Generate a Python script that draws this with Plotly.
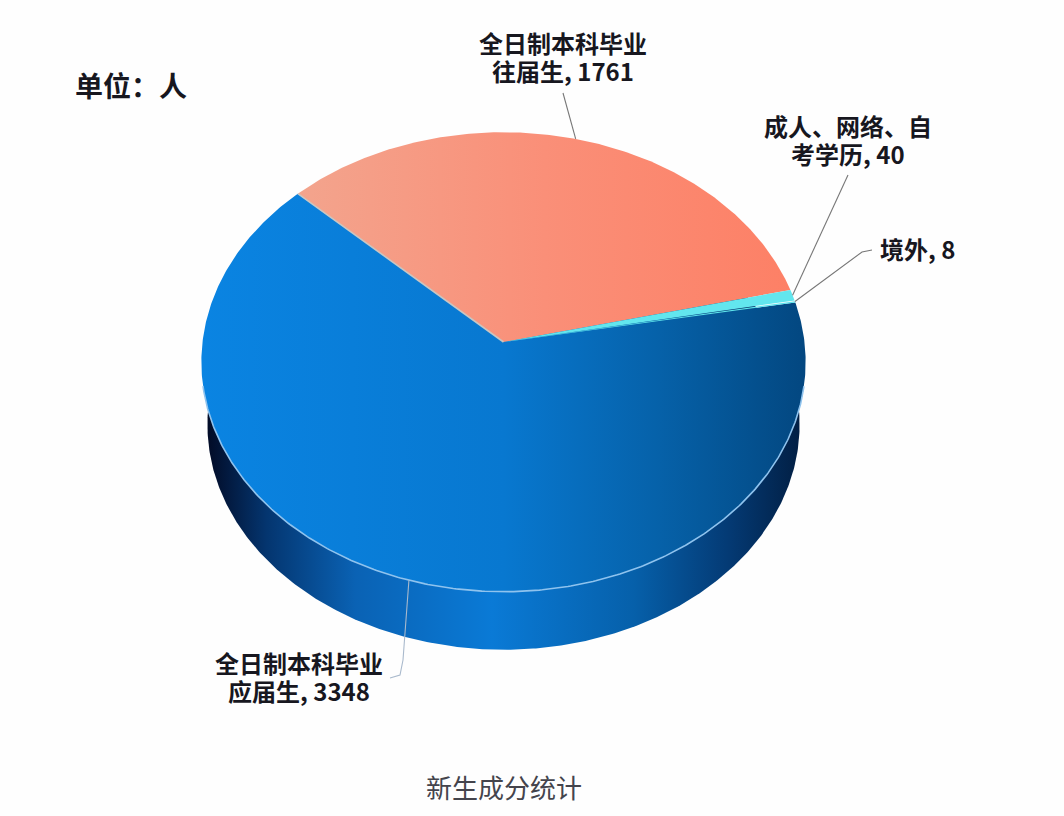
import numpy as np
import plotly.graph_objects as go

# slices, clockwise starting from the orange one
categories = ["全日制本科毕业<br>往届生", "成人、网络、自<br>考学历", "境外", "全日制本科毕业<br>应届生"]
values = [1761, 40, 8, 3348]
unit_text = "单位：人"
title_text = "新生成分统计"

START_ANGLE = -46.4
CX, CY = 503.5, 342
A, B, P = 301, 228, 0.087
FONT = "Noto Sans CJK SC"
LINE_GAP = 28


def project(theta_deg, scale=1.0, cy=CY):
    t = np.radians(theta_deg)
    s = 1 / (1 + P * np.cos(t))
    return CX + scale * A * np.sin(t) * s, cy - scale * B * np.cos(t) * s


def arc(a0, a1, scale=1.0, cy=CY):
    n = max(int(abs(a1 - a0) * 2), 4)
    return project(np.linspace(a0, a1, n), scale, cy)


total = sum(values)
edges = START_ANGLE + np.cumsum([0] + values) / total * 360
mids = (edges[:-1] + edges[1:]) / 2

slice_fill = [
    dict(colorscale=[[0, "#f3a48d"], [0.5, "#fa8f78"], [1, "#fd8066"]], start=300, stop=790),
    dict(colorscale=[[0, "#62e6ee"], [1, "#62e6ee"]], start=300, stop=800),
    dict(colorscale=[[0, "#5ce4ee"], [1, "#5ce4ee"]], start=300, stop=800),
    dict(colorscale=[[0, "#0a84e2"], [0.5, "#0878d0"], [0.75, "#0662aa"], [1, "#034780"]], start=201, stop=806),
]
wall_fill = dict(
    colorscale=[[0, "#020b26"], [0.1, "#04356f"], [0.25, "#0a62b4"], [0.48, "#0a7ad6"],
                [0.72, "#0660aa"], [0.88, "#043a74"], [1, "#021f44"]],
    start=207, stop=800,
)

fig = go.Figure()

# side wall, a smaller disc pushed down
wx, wy = arc(0, 360, 0.98, 405)
fig.add_trace(go.Scatter(x=wx, y=wy, mode="lines", fill="toself", line=dict(width=0),
                         fillgradient=dict(type="horizontal", **wall_fill), hoverinfo="skip"))

# top face, the big slice first so the smaller ones sit on it
for i in [3, 0, 1, 2]:
    ax, ay = arc(edges[i], edges[i + 1])
    x = np.r_[CX, ax, CX]
    y = np.r_[CY, ay, CY]
    fig.add_trace(go.Scatter(x=x, y=y, mode="lines", fill="toself", line=dict(width=0),
                             fillgradient=dict(type="horizontal", **slice_fill[i]), hoverinfo="skip"))

# seam between blue and orange, and the light rim on the front
sx, sy = project(np.array([edges[0]]))
fig.add_trace(go.Scatter(x=[CX, sx[0]], y=[CY, sy[0]], mode="lines",
                         line=dict(color="#c9c6c2", width=1.6), hoverinfo="skip"))
rx, ry = arc(101, 259)
fig.add_trace(go.Scatter(x=rx, y=ry, mode="lines", line=dict(color="#8fc3ee", width=1.6), hoverinfo="skip"))

# leader lines from the middle of each slice to its label
leader_ends = [
    ([563], [93]),
    ([848], [175]),
    ([862, 872], [252, 250]),
    ([403, 400, 390], [660, 675, 678]),
]
leader_colors = ["#777777", "#777777", "#777777", "#a9b9cc"]
for i in range(4):
    lx, ly = project(np.array([mids[i]]))
    fig.add_trace(go.Scatter(x=np.r_[lx, leader_ends[i][0]], y=np.r_[ly, leader_ends[i][1]], mode="lines",
                             line=dict(color=leader_colors[i], width=1.1), hoverinfo="skip"))

label_pos = [(563, 56), (848, 139), (917, 248), (299, 676)]
for i in range(4):
    lines = f"{categories[i]}, {values[i]}".split("<br>")
    y0 = label_pos[i][1] - LINE_GAP * (len(lines) - 1) / 2
    for j, line in enumerate(lines):
        fig.add_annotation(x=label_pos[i][0], y=y0 + j * LINE_GAP, showarrow=False, text=line,
                           font=dict(family=FONT, size=24, color="#17171f", weight=700))
fig.add_annotation(x=131, y=85, showarrow=False, text=unit_text,
                   font=dict(family=FONT, size=28, color="#17171f", weight=700))
fig.add_annotation(x=504, y=786, showarrow=False, text=title_text,
                   font=dict(family=FONT, size=26, color="#44444c"))

fig.update_layout(
    width=1064, height=816, margin=dict(l=0, r=0, t=0, b=0),
    paper_bgcolor="#fefefe", plot_bgcolor="#fefefe", showlegend=False,
    xaxis=dict(range=[0, 1064], visible=False, fixedrange=True),
    yaxis=dict(range=[816, 0], visible=False, fixedrange=True),
)
# the page has a default body margin that would push the chart 8px over
fig.write_html("out.html", config=dict(displayModeBar=False),
               post_script="document.body.style.margin='0';")
